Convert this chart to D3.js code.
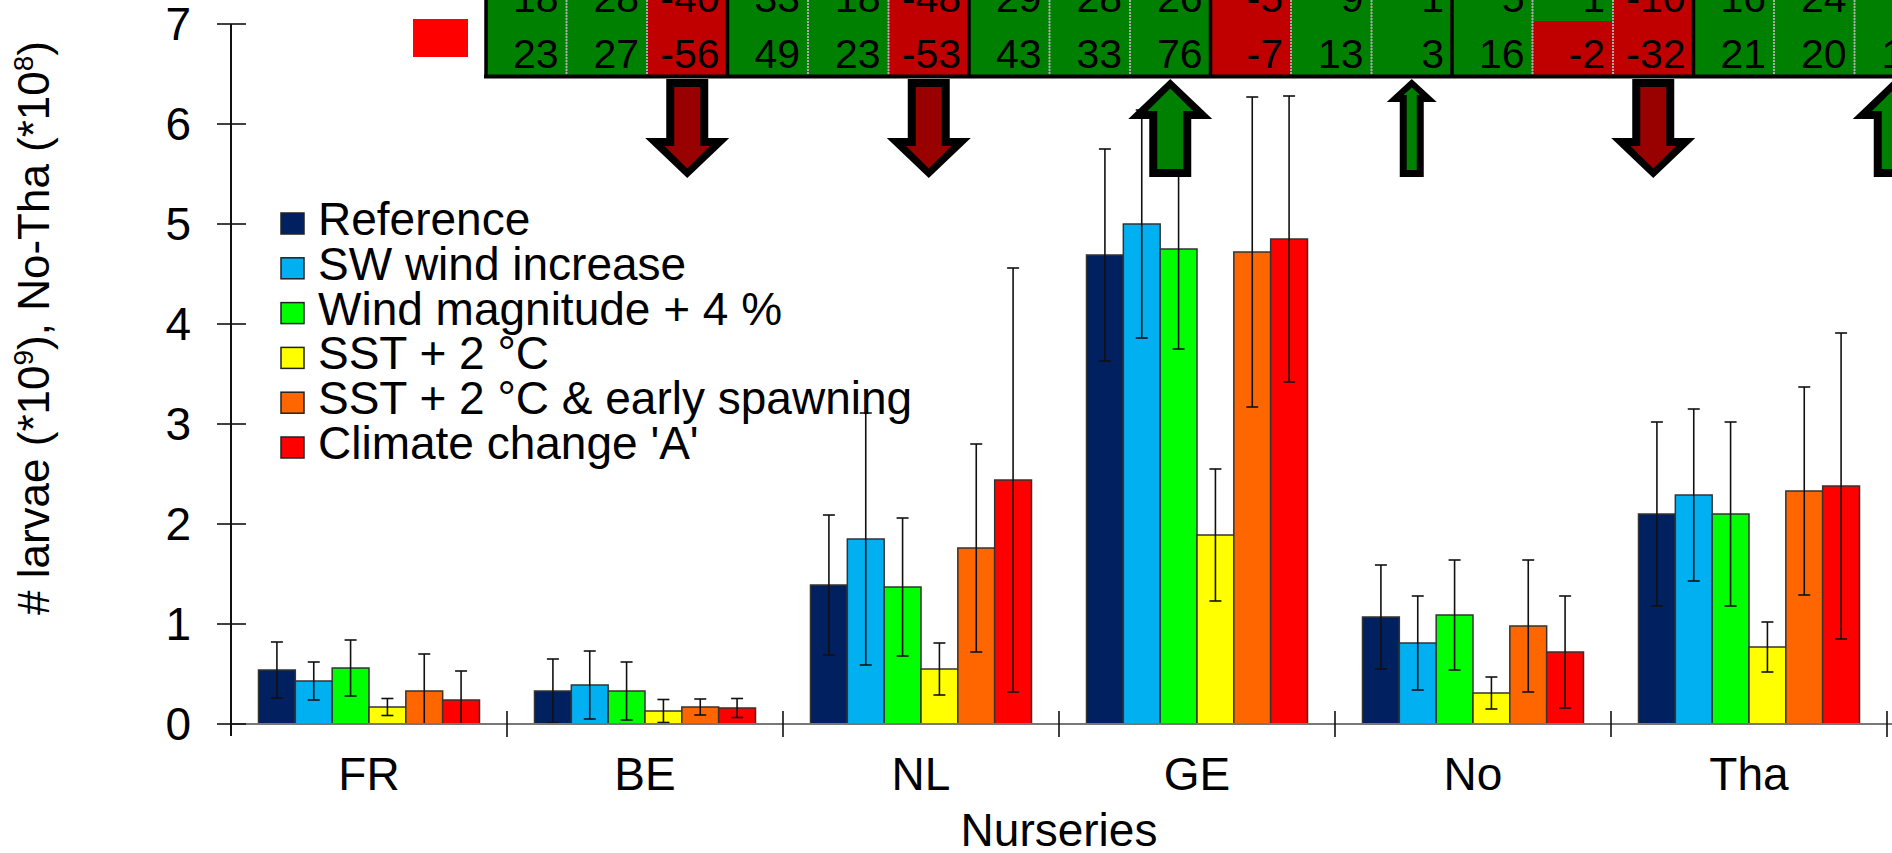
<!DOCTYPE html>
<html lang="en">
<head>
<meta charset="utf-8">
<title>Larvae per nursery</title>
<script src="https://cdn.jsdelivr.net/npm/d3@7/dist/d3.min.js"></script>
<style>
  body { margin: 0; background: #fff; }
  svg { display: block; font-family: "Liberation Sans", Arial, sans-serif; }
</style>
</head>
<body>
<svg id="chart" width="1892" height="853"></svg>
<script>
// nurseries and scenarios
var nurseries = ["FR", "BE", "NL", "GE", "No", "Tha"];
var scenarios = ["Reference", "SW wind increase", "Wind magnitude + 4 %",
                 "SST + 2 °C", "SST + 2 °C & early spawning", "Climate change 'A'"];
var colors = ["#002060", "#00B0F0", "#00FF00", "#FFFF00", "#FF6600", "#FF0000"];

// mean number of larvae, one array per scenario (FR..Tha)
var reference   = [0.54, 0.33, 1.39, 4.69, 1.07, 2.10];
var swWind      = [0.43, 0.39, 1.85, 5.00, 0.81, 2.29];
var windMag     = [0.56, 0.33, 1.37, 4.75, 1.09, 2.10];
var sst2        = [0.17, 0.13, 0.55, 1.89, 0.31, 0.77];
var sst2Early   = [0.33, 0.17, 1.76, 4.72, 0.98, 2.33];
var climateA    = [0.24, 0.16, 2.44, 4.85, 0.72, 2.38];

// error bar half widths
var referenceErr = [0.28, 0.32, 0.70, 1.06, 0.52, 0.92];
var swWindErr    = [0.19, 0.34, 1.26, 1.14, 0.47, 0.86];
var windMagErr   = [0.28, 0.29, 0.69, 1.00, 0.55, 0.92];
var sst2Err      = [0.085, 0.115, 0.26, 0.66, 0.16, 0.25];
var sst2EarlyErr = [0.37, 0.08, 1.04, 1.55, 0.66, 1.04];
var climateAErr  = [0.29, 0.095, 2.12, 1.43, 0.56, 1.53];

var yTicks = [0, 1, 2, 3, 4, 5, 6, 7];

// % change table on top (3 columns per nursery)
var tableTop    = [18, 28, -40, 33, 18, -48, 29, 28, 26, -5, 9, 1, 5, 1, -10, 16, 24, 5];
var tableBottom = [23, 27, -56, 49, 23, -53, 43, 33, 76, -7, 13, 3, 16, -2, -32, 21, 20, 15];

var series = [reference, swWind, windMag, sst2, sst2Early, climateA];
var errors = [referenceErr, swWindErr, windMagErr, sst2Err, sst2EarlyErr, climateAErr];

var svg = d3.select("#chart");

var y = d3.scaleLinear().domain([0, 7]).range([724, 24]);
var x0 = d3.scaleBand().domain(nurseries).range([231, 1887]);
var x1 = d3.scaleBand().domain(d3.range(scenarios.length)).range([27.5, 248.5]);

// bars
var groups = svg.append("g").selectAll("g")
  .data(nurseries)
  .join("g")
  .attr("transform", function(d) { return "translate(" + x0(d) + ",0)"; });

groups.selectAll("rect")
  .data(function(d, i) { return series.map(function(s, k) { return {k: k, v: s[i], e: errors[k][i]}; }); })
  .join("rect")
  .attr("x", function(d) { return x1(d.k); })
  .attr("width", x1.bandwidth())
  .attr("y", function(d) { return y(d.v); })
  .attr("height", function(d) { return y(0) - y(d.v); })
  .attr("fill", function(d) { return colors[d.k]; })
  .attr("stroke", "#333")
  .attr("stroke-width", 1.5);

// error bars
var eb = groups.selectAll("g.err")
  .data(function(d, i) { return series.map(function(s, k) { return {k: k, v: s[i], e: errors[k][i]}; }); })
  .join("g").attr("class", "err")
  .attr("stroke", "#111").attr("stroke-width", 1.6);
eb.append("line")
  .attr("x1", function(d) { return x1(d.k) + x1.bandwidth() / 2; })
  .attr("x2", function(d) { return x1(d.k) + x1.bandwidth() / 2; })
  .attr("y1", function(d) { return y(d.v + d.e); })
  .attr("y2", function(d) { return y(Math.max(0, d.v - d.e)); });
eb.append("line")
  .attr("x1", function(d) { return x1(d.k) + x1.bandwidth() / 2 - 6; })
  .attr("x2", function(d) { return x1(d.k) + x1.bandwidth() / 2 + 6; })
  .attr("y1", function(d) { return y(d.v + d.e); })
  .attr("y2", function(d) { return y(d.v + d.e); });
eb.filter(function(d) { return d.v - d.e > 0; }).append("line")
  .attr("x1", function(d) { return x1(d.k) + x1.bandwidth() / 2 - 6; })
  .attr("x2", function(d) { return x1(d.k) + x1.bandwidth() / 2 + 6; })
  .attr("y1", function(d) { return y(d.v - d.e); })
  .attr("y2", function(d) { return y(d.v - d.e); });

// x axis
svg.append("line")
  .attr("x1", 231).attr("x2", 1892)
  .attr("y1", y(0)).attr("y2", y(0))
  .attr("stroke", "#777").attr("stroke-width", 2);
var bounds = nurseries.map(function(d) { return x0(d); }).concat([x0.range()[1]]);
svg.append("g").selectAll("line")
  .data(bounds.slice(1))
  .join("line")
  .attr("x1", function(d) { return d; }).attr("x2", function(d) { return d; })
  .attr("y1", y(0) - 13).attr("y2", y(0) + 13)
  .attr("stroke", "#111").attr("stroke-width", 1.6);
svg.append("g").selectAll("text")
  .data(nurseries)
  .join("text")
  .attr("x", function(d) { return x0(d) + x0.bandwidth() / 2; })
  .attr("y", 790)
  .attr("text-anchor", "middle")
  .attr("font-size", 46)
  .text(function(d) { return d; });
svg.append("text")
  .attr("x", (x0.range()[0] + x0.range()[1]) / 2)
  .attr("y", 846)
  .attr("text-anchor", "middle")
  .attr("font-size", 46)
  .text("Nurseries");

// y axis
svg.append("line")
  .attr("x1", 231).attr("x2", 231)
  .attr("y1", y(7)).attr("y2", y(0) + 12)
  .attr("stroke", "#111").attr("stroke-width", 2);
svg.append("g").selectAll("line")
  .data(yTicks)
  .join("line")
  .attr("x1", 217).attr("x2", 246)
  .attr("y1", function(d) { return y(d); }).attr("y2", function(d) { return y(d); })
  .attr("stroke", "#111").attr("stroke-width", 1.6);
svg.append("g").selectAll("text")
  .data(yTicks)
  .join("text")
  .attr("x", 191)
  .attr("y", function(d) { return y(d) + 16; })
  .attr("text-anchor", "end")
  .attr("font-size", 46)
  .text(function(d) { return d; });

var yTitle = svg.append("text")
  .attr("transform", "translate(49,328) rotate(-90)")
  .attr("text-anchor", "middle")
  .attr("font-size", 44);
yTitle.append("tspan").text("# larvae (*10");
yTitle.append("tspan").attr("dy", -16).attr("font-size", 28).text("9");
yTitle.append("tspan").attr("dy", 16).text("), No-Tha (*10");
yTitle.append("tspan").attr("dy", -16).attr("font-size", 28).text("8");
yTitle.append("tspan").attr("dy", 16).text(")");

// legend
var leg = svg.append("g").selectAll("g")
  .data(scenarios)
  .join("g")
  .attr("transform", function(d, i) { return "translate(281," + (213 + i * 44.8) + ")"; });
leg.append("rect")
  .attr("width", 23).attr("height", 21)
  .attr("fill", function(d, i) { return colors[i]; })
  .attr("stroke", "#222").attr("stroke-width", 1.5);
leg.append("text")
  .attr("x", 37).attr("y", 22)
  .attr("font-size", 46)
  .text(function(d) { return d; });

// table of changes
var tx = d3.scaleBand().domain(d3.range(tableTop.length)).range([486, 486 + tableTop.length * 80.5]);
var cellColor = function(v) { return v < 0 ? "#C00000" : "#008000"; };
var rows = [{vals: tableTop, y0: -33, y1: 21, base: 12}, {vals: tableBottom, y0: 21, y1: 76, base: 68}];
var tbl = svg.append("g");
rows.forEach(function(r) {
  tbl.append("g").selectAll("rect")
    .data(r.vals)
    .join("rect")
    .attr("x", function(d, i) { return tx(i); })
    .attr("width", tx.bandwidth())
    .attr("y", r.y0).attr("height", r.y1 - r.y0)
    .attr("fill", cellColor);
});
tbl.append("g").selectAll("line")
  .data(d3.range(1, tableTop.length).filter(function(i) { return i % 3 !== 0; }))
  .join("line")
  .attr("x1", function(i) { return tx(i); }).attr("x2", function(i) { return tx(i); })
  .attr("y1", 0).attr("y2", 76)
  .attr("stroke", "#aaa").attr("stroke-width", 2).attr("stroke-dasharray", "2,1");
tbl.append("g").selectAll("line")
  .data(d3.range(0, tableTop.length, 3))
  .join("line")
  .attr("x1", function(i) { return tx(i); }).attr("x2", function(i) { return tx(i); })
  .attr("y1", 0).attr("y2", 77)
  .attr("stroke", "#000").attr("stroke-width", 3.5);
tbl.append("line")
  .attr("x1", 484).attr("x2", 1892).attr("y1", 76.5).attr("y2", 76.5)
  .attr("stroke", "#000").attr("stroke-width", 4);
rows.forEach(function(r) {
  tbl.append("g").selectAll("text")
    .data(r.vals)
    .join("text")
    .attr("x", function(d, i) { return tx(i) + tx.bandwidth() - 8; })
    .attr("y", r.base)
    .attr("text-anchor", "end")
    .attr("font-size", 41)
    .text(function(d) { return d; });
});

// red key left of the table
svg.append("rect")
  .attr("x", 413).attr("y", 19).attr("width", 55).attr("height", 38)
  .attr("fill", "#FF0000");

// arrows under the third column of each nursery
function arrowPts(cx, up, big) {
  var top = 79, bot = 177;
  var sw = big ? 21 : 12, hw = big ? 42 : 25, hl = big ? 40 : 23, t = big ? 8 : 7;
  var outer, inner;
  if (up) {
    outer = [[cx, top], [cx + hw, top + hl], [cx + sw, top + hl], [cx + sw, bot],
             [cx - sw, bot], [cx - sw, top + hl], [cx - hw, top + hl]];
    inner = [[cx, top + 1.2 * t], [cx + hw - 2.4 * t, top + hl - t], [cx + sw - t, top + hl - t], [cx + sw - t, bot - t],
             [cx - sw + t, bot - t], [cx - sw + t, top + hl - t], [cx - hw + 2.4 * t, top + hl - t]];
  } else {
    var tip = bot + 1;
    outer = [[cx - sw, top], [cx + sw, top], [cx + sw, tip - hl], [cx + hw, tip - hl], [cx, tip],
             [cx - hw, tip - hl], [cx - sw, tip - hl]];
    inner = [[cx - sw + t, top + t], [cx + sw - t, top + t], [cx + sw - t, tip - hl + t], [cx + hw - 2.4 * t, tip - hl + t],
             [cx, tip - 1.2 * t], [cx - hw + 2.4 * t, tip - hl + t], [cx - sw + t, tip - hl + t]];
  }
  return {outer: outer, inner: inner};
}
var arrowData = nurseries.map(function(d, g) {
  var v = tableBottom[g * 3 + 2];
  return {cx: tx(g * 3 + 2) + tx.bandwidth() / 2, up: v > 0, big: Math.abs(v) >= 10};
});
var line = d3.line();
var arr = svg.append("g").selectAll("g").data(arrowData).join("g");
arr.append("path")
  .attr("d", function(d) { return line(arrowPts(d.cx, d.up, d.big).outer) + "Z"; })
  .attr("fill", "#000");
arr.append("path")
  .attr("d", function(d) { return line(arrowPts(d.cx, d.up, d.big).inner) + "Z"; })
  .attr("fill", function(d) { return d.up ? "#008000" : "#990000"; });
</script>
</body>
</html>
